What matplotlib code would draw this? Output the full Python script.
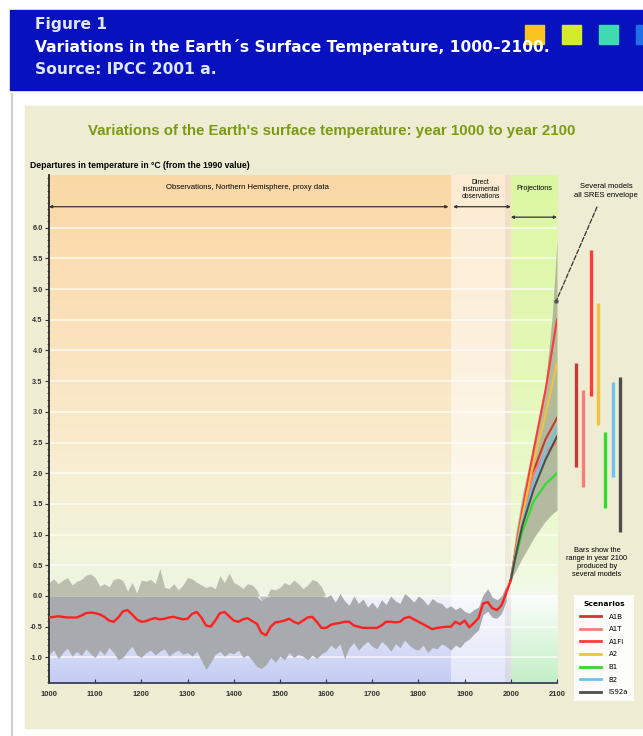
import numpy as np
import matplotlib
matplotlib.use("Agg")
import matplotlib.pyplot as plt
from matplotlib.patches import Rectangle
from matplotlib.lines import Line2D
from matplotlib.colors import to_rgb
from matplotlib.ticker import MultipleLocator
from matplotlib import font_manager

# ---- data ----
mean_years = np.arange(1000, 2001, 10)
mean_temp = [
    -0.35, -0.34, -0.33, -0.34, -0.35, -0.35, -0.35, -0.32, -0.28, -0.27,
    -0.28, -0.30, -0.34, -0.40, -0.42, -0.35, -0.25, -0.23, -0.30, -0.38,
    -0.42, -0.41, -0.38, -0.36, -0.38, -0.37, -0.35, -0.34, -0.36, -0.38,
    -0.37, -0.29, -0.26, -0.35, -0.48, -0.50, -0.40, -0.28, -0.26, -0.33,
    -0.40, -0.42, -0.38, -0.36, -0.41, -0.45, -0.60, -0.64, -0.50, -0.43,
    -0.42, -0.40, -0.37, -0.42, -0.45, -0.40, -0.35, -0.34, -0.42, -0.52,
    -0.52, -0.47, -0.45, -0.44, -0.42, -0.42, -0.48, -0.50, -0.52, -0.52,
    -0.52, -0.52, -0.48, -0.42, -0.42, -0.43, -0.42, -0.36, -0.34, -0.38,
    -0.42, -0.46, -0.50, -0.54, -0.52, -0.51, -0.50, -0.50, -0.42, -0.46,
    -0.40, -0.51, -0.44, -0.36, -0.12, -0.10, -0.20, -0.23, -0.15, 0.05,
    0.26,
]

band_years = np.arange(1000, 2000, 10)
band_upper = [
    0.22, 0.28, 0.20, 0.26, 0.30, 0.18, 0.24, 0.27, 0.34, 0.36,
    0.30, 0.16, 0.20, 0.15, 0.27, 0.29, 0.25, 0.08, 0.22, 0.05,
    0.26, 0.24, 0.27, 0.20, 0.45, 0.14, 0.12, 0.20, 0.10, 0.18,
    0.30, 0.28, 0.22, 0.18, 0.14, 0.16, 0.12, 0.33, 0.22, 0.37,
    0.22, 0.18, 0.12, 0.20, 0.18, 0.10, -0.08, -0.02, 0.12, 0.10,
    0.14, 0.22, 0.18, 0.26, 0.20, 0.12, 0.18, 0.27, 0.24, 0.15,
    -0.02, 0.02, -0.10, 0.04, -0.08, -0.15, 0.00, -0.12, -0.05, -0.18,
    -0.10, -0.20, -0.06, -0.14, 0.00, -0.08, -0.12, 0.04, -0.02, -0.10,
    0.00, -0.06, -0.15, -0.04, -0.10, -0.12, -0.20, -0.16, -0.22, -0.18,
    -0.25, -0.28, -0.22, -0.18, 0.02, 0.12, -0.02, -0.06, 0.00, 0.18,
]
band_lower = [
    -0.95, -0.88, -1.02, -0.92, -0.85, -0.98, -0.90, -0.97, -0.86, -0.94,
    -1.00, -0.88, -0.96, -0.84, -0.92, -1.04, -1.00, -0.90, -0.82, -0.96,
    -1.00, -0.92, -0.88, -0.96, -0.90, -0.86, -0.98, -0.92, -0.88, -0.95,
    -0.92, -0.98, -0.90, -1.05, -1.20, -1.08, -0.95, -0.90, -0.98, -0.92,
    -0.94, -0.88, -1.00, -0.96, -1.05, -1.15, -1.18, -1.12, -1.00, -1.08,
    -0.98, -1.04, -0.92, -1.00, -0.95, -0.98, -1.04, -0.96, -1.02, -0.94,
    -0.90, -0.80, -0.86, -0.78, -1.02, -0.84, -0.76, -0.88, -0.80, -0.74,
    -0.82, -0.86, -0.74, -0.80, -0.90, -0.78, -0.84, -0.72, -0.80, -0.86,
    -0.88, -0.80, -0.92, -0.84, -0.86, -0.78, -0.82, -0.88, -0.80, -0.84,
    -0.75, -0.70, -0.62, -0.55, -0.30, -0.25, -0.35, -0.36, -0.28, -0.08,
]

env_years = [2000, 2010, 2025, 2050, 2075, 2090, 2100]
env_hi = [0.26, 1.00, 1.65, 2.50, 3.45, 4.60, 5.80]
env_lo = [0.26, 0.40, 0.62, 0.95, 1.22, 1.34, 1.40]

proj_years = [2000, 2010, 2025, 2050, 2075, 2100]
scenarios = ["A1B", "A1T", "A1FI", "A2", "B1", "B2", "IS92a"]
proj = {
    "A1B":   [0.26, 0.70, 1.30, 2.05, 2.55, 2.90],
    "A1T":   [0.26, 0.72, 1.32, 2.00, 2.35, 2.50],
    "A1FI":  [0.26, 0.75, 1.40, 2.40, 3.35, 4.50],
    "A2":    [0.26, 0.70, 1.30, 2.20, 2.95, 3.80],
    "B1":    [0.26, 0.60, 1.05, 1.55, 1.82, 2.00],
    "B2":    [0.26, 0.66, 1.20, 1.85, 2.35, 2.75],
    "IS92a": [0.26, 0.64, 1.15, 1.75, 2.22, 2.60],
}
bar_lo = [2.10, 1.78, 3.25, 2.78, 1.43, 1.94, 1.05]
bar_hi = [3.80, 3.35, 5.63, 4.78, 2.67, 3.49, 3.57]

colors = {
    "A1B": "#c43a34", "A1T": "#f77d78", "A1FI": "#ff3b3b", "A2": "#f2c23e",
    "B1": "#2fdc2f", "B2": "#6cc3f0", "IS92a": "#4d4d4d",
}

W, H = 643, 736
def fx(x):
    return x / W
def fy(y):
    return 1 - y / H

arial = ["Liberation Sans", "DejaVu Sans"]
# a condensed face for the banner if one is installed
names = {f.name for f in font_manager.fontManager.ttflist}
narrow = [n for n in ["Liberation Sans Narrow", "DejaVu Sans Condensed"] if n in names]
banner_size = 14 if narrow else 11.2
narrow = narrow + ["DejaVu Sans"]

fig = plt.figure(figsize=(6.43, 7.36), dpi=100)
fig.patch.set_facecolor("white")

# banner
fig.patches.append(Rectangle((fx(10), fy(90)), (643 - 10) / W, 80 / H,
                             transform=fig.transFigure, color="#0712be", zorder=-2))
for i, c in enumerate(["#f7c51e", "#d6ea2c", "#3fd9b2", "#1f6fe6"]):
    fig.patches.append(Rectangle((fx(525 + 37 * i), fy(44)), 19 / W, 19 / H,
                                 transform=fig.transFigure, color=c, zorder=-1))
fig.text(fx(35), fy(24), "Figure 1", color="#dfe6ff", fontsize=banner_size,
         fontweight="bold", family=narrow, va="center")
fig.text(fx(35), fy(47), "Variations in the Earth\u00b4s Surface Temperature, 1000\u20132100.",
         color="white", fontsize=banner_size, fontweight="bold", family=narrow, va="center")
fig.text(fx(35), fy(70), "Source: IPCC 2001 a.", color="#dfe6ff", fontsize=banner_size,
         fontweight="bold", family=narrow, va="center")

# grey rule + beige panel
fig.lines.append(Line2D([fx(12), fx(12)], [fy(94), fy(736)], transform=fig.transFigure,
                        color="#cfcfcf", lw=1.5, zorder=-2))
fig.patches.append(Rectangle((fx(25), fy(728)), (643 - 25) / W, (728 - 106) / H,
                             transform=fig.transFigure, color="#eeecd2", zorder=-2))

fig.text(fx(332), fy(131), "Variations of the Earth's surface temperature: year 1000 to year 2100",
         color="#7a9a12", fontsize=10.8, fontweight="bold", family=arial,
         ha="center", va="center")
fig.text(fx(30), fy(165), "Departures in temperature in \u00b0C (from the 1990 value)",
         fontsize=6.2, fontweight="bold", family=arial, ha="left", va="center")

# ---- axes ----
ylo, yhi = (596 - 683) / 61.4, (596 - 175) / 61.4
ax = fig.add_axes([fx(49), fy(683), (557 - 49) / W, (683 - 175) / H], zorder=1)
ax.set_facecolor("none")


def grad(stops, n=400):
    vals = np.linspace(yhi, ylo, n)
    ts = [s[0] for s in stops][::-1]
    cols = np.array([to_rgb(s[1]) for s in stops])[::-1]
    img = np.stack([np.interp(vals, ts, cols[:, k]) for k in range(3)], axis=-1)
    return img[:, None, :]


proxy_bg = [(yhi, "#fad8a6"), (4.0, "#fbe3be"), (2.0, "#f7eed2"), (0.5, "#f0f5dd"),
            (0.01, "#eef4e4"), (0.0, "#f2f2fb"), (ylo, "#c4ccf3")]
proj_bg = [(yhi, "#dcf7a2"), (3.0, "#e6f8bd"), (0.5, "#eff9da"), (0.01, "#f3faee"),
           (0.0, "#fbfdfb"), (ylo, "#c4efc6")]
ax.imshow(grad(proxy_bg), extent=(1000, 2000, ylo, yhi), aspect="auto", zorder=0)
ax.imshow(grad(proj_bg), extent=(2000, 2100, ylo, yhi), aspect="auto", zorder=0)
ax.axvspan(1870, 2000, color="white", alpha=0.5, lw=0, zorder=0.5)
ax.axvspan(1988, 2000, color="#b08878", alpha=0.13, lw=0, zorder=0.6)

for v in np.arange(-1.0, 6.01, 0.5):
    ax.axhline(v, color="white", lw=1.1, alpha=0.8, zorder=1)

# proxy uncertainty band
band_years = np.asarray(band_years)
up = np.asarray(band_upper)
lo = np.asarray(band_lower)
early = band_years <= 1600
top_dark = np.where(early, np.minimum(up, 0.0), up)
ax.fill_between(band_years, 0.0, up, where=early, color="#bcbfad", lw=0, zorder=2)
ax.fill_between(band_years, lo, top_dark, color="#a7aaae", lw=0, zorder=2)

ax.plot(mean_years, mean_temp, color="#ff2020", lw=1.7, zorder=4)

# projections
ax.fill_between(env_years, env_lo, env_hi, color="#a9b097", lw=0, zorder=2, alpha=0.85)
handles = []
for name in scenarios:
    ln, = ax.plot(proj_years, proj[name], color=colors[name], lw=1.5, zorder=3)
    handles.append(ln)

# range bars at 2100 (outside the axis)
for i, name in enumerate(scenarios):
    bx = 2141 + 16 * i
    ax.plot([bx, bx], [bar_lo[i], bar_hi[i]], color=colors[name], lw=2.4,
            solid_capstyle="butt", clip_on=False, zorder=3)

ax.set_xlim(1000, 2100)
ax.set_ylim(ylo, yhi)

ax.set_xticks(np.arange(1000, 2101, 100))
ax.set_yticks(np.arange(-1.0, 6.01, 0.5))
ax.set_yticklabels([f"{v:.1f}" for v in np.arange(-1.0, 6.01, 0.5)])
ax.yaxis.set_minor_locator(MultipleLocator(0.1))
ax.tick_params(axis="y", which="major", direction="out", length=3, width=0.8,
               labelsize=5.3, pad=1.5, colors="#333333")
ax.tick_params(axis="y", which="minor", direction="out", length=1.8, width=0.6,
               colors="#333333")
ax.tick_params(axis="x", direction="in", length=3, width=0.8, labelsize=5.5,
               pad=6, colors="#333333")
for lab in ax.get_xticklabels() + ax.get_yticklabels():
    lab.set_fontweight("bold")
    lab.set_family(arial)
for s in ["top", "right"]:
    ax.spines[s].set_visible(False)
ax.spines["left"].set_color("#2a2a2a")
ax.spines["left"].set_linewidth(1.3)
ax.spines["bottom"].set_color("#3a3f5a")
ax.spines["bottom"].set_linewidth(1.3)

# period labels and arrows
arrow = dict(arrowstyle="<|-|>", lw=0.9, color="#333333", shrinkA=0, shrinkB=0,
             mutation_scale=4)
ax.text(1430, 6.66, "Observations, Northern Hemisphere, proxy data", fontsize=5.5,
        ha="center", va="center", family=arial)
ax.annotate("", xy=(1000, 6.34), xytext=(1865, 6.34), arrowprops=arrow)
ax.text(1935, 6.62, "Direct\ninstrumental\nobservations", fontsize=4.9, ha="center",
        va="center", linespacing=0.95, family=arial)
ax.annotate("", xy=(1875, 6.34), xytext=(2000, 6.34), arrowprops=arrow)
ax.text(2050, 6.63, "Projections", fontsize=5.2, ha="center", va="center", family=arial)
ax.annotate("", xy=(2000, 6.17), xytext=(2100, 6.17), arrowprops=arrow,
            annotation_clip=False)

fig.text(fx(606), fy(191), "Several models\nall SRES envelope", fontsize=5.5,
         ha="center", va="center", linespacing=1.4, family=arial)
ax.annotate("", xy=(2098, 4.8), xycoords="data", xytext=(fx(597), fy(207)),
            textcoords="figure fraction", annotation_clip=False,
            arrowprops=dict(arrowstyle="-", linestyle="--", color="#333333", lw=0.9,
                            shrinkA=0, shrinkB=0))
ax.plot([2098], [4.8], "o", ms=2.2, color="#555555", clip_on=False, zorder=5)

fig.text(fx(597), fy(562), "Bars show the\nrange in year 2100\nproduced by\nseveral models",
         fontsize=5.3, ha="center", va="center", linespacing=1.2, family=arial)

leg = ax.legend(handles, scenarios, title="Scenarios", loc="upper left",
                bbox_to_anchor=(fx(571), fy(592)), bbox_transform=fig.transFigure,
                fontsize=5.0, title_fontsize=5.4, frameon=True, fancybox=False,
                edgecolor="none", facecolor="white", framealpha=0.85,
                handlelength=3.0, handletextpad=1.1, labelspacing=0.95, borderpad=0.8)
leg.get_title().set_fontweight("bold")
for ln in leg.get_lines():
    ln.set_linewidth(2)

fig.savefig("out.png", dpi=100)
